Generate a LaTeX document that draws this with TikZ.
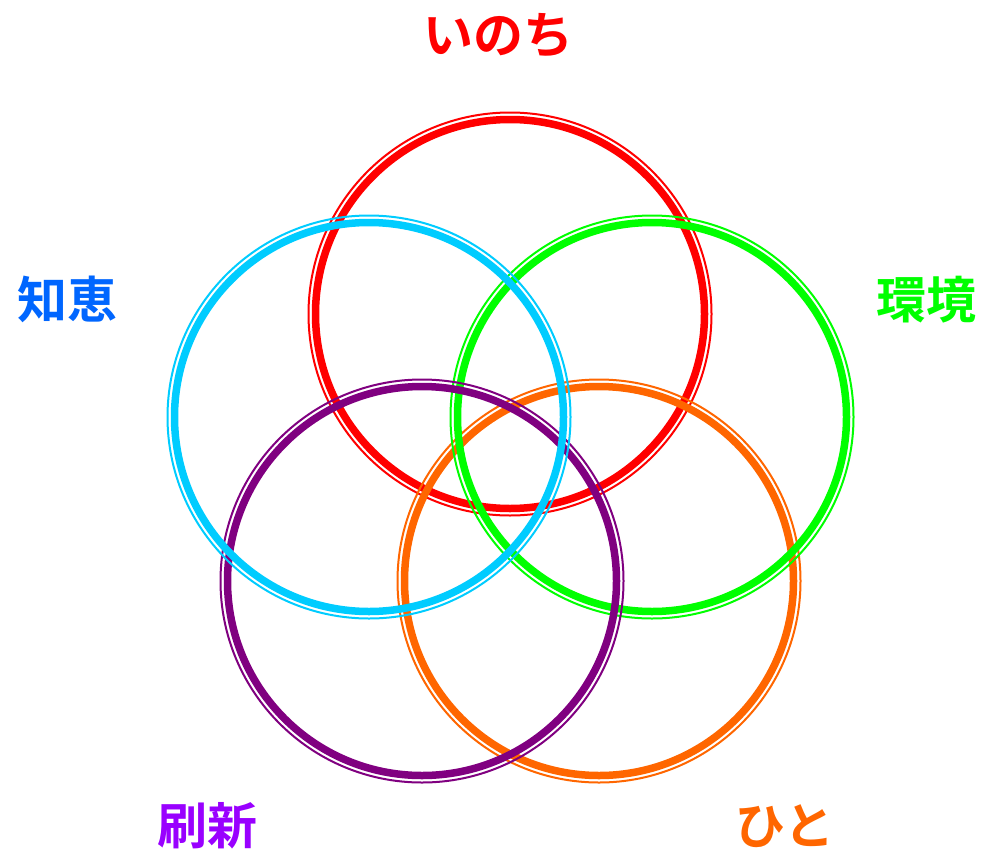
\documentclass[tikz,border=0pt]{standalone}
\usepackage{fontspec}
\newfontfamily\jpfont{Noto Sans CJK JP Bold}
\definecolor{cred}{HTML}{FF0000}
\definecolor{cgreen}{HTML}{00FF00}
\definecolor{ccyan}{HTML}{00CCFF}
\definecolor{cpurple}{HTML}{800080}
\definecolor{corange}{HTML}{FF6600}
\definecolor{tblue}{HTML}{0066FF}
\definecolor{tpurple}{HTML}{9900FF}
\tikzset{
  ring/.style={circle, minimum size=389pt, inner sep=0pt, draw=#1, line width=7.5pt,
    append after command={\pgfextra{\draw[#1, line width=2pt] (\tikzlastnode.center) circle[radius=201.5pt];}}},
  lbl/.style={font=\jpfont\fontsize{50}{50}\selectfont, text=#1, inner sep=0pt}
}
\begin{document}
\begin{tikzpicture}[x=1pt,y=-1pt]
\useasboundingbox (0,0) rectangle (981,851);
\node[ring=cred] (inochi) at (510,314) {};
\node[ring=corange] (hito) at (599,581) {};
\node[ring=cgreen] (kankyo) at (652,417) {};
\node[ring=cpurple] (sasshin) at (422,581) {};
\node[ring=ccyan] (chie) at (369,417) {};
\node[lbl=cred] (tinochi) at (498,35) {いのち};
\node[lbl=cgreen] (tkankyo) at (926,300) {環境};
\node[lbl=tblue] (tchie) at (67,299) {知恵};
\node[lbl=tpurple] (tsasshin) at (207,826) {刷新};
\node[lbl=corange] (thito) at (785,826) {ひと};
\end{tikzpicture}
\end{document}
